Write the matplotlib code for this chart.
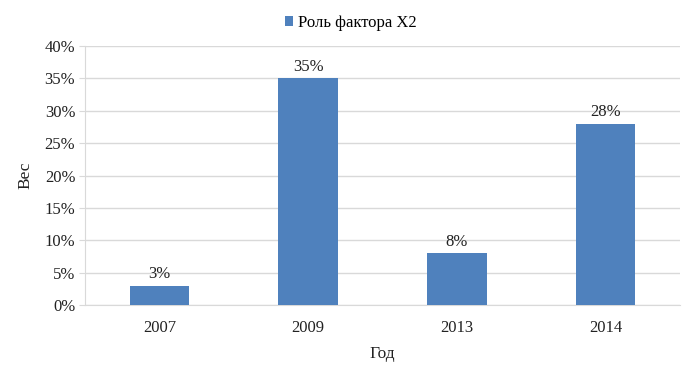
import matplotlib
matplotlib.use("Agg")
import matplotlib.pyplot as plt
from matplotlib.ticker import FuncFormatter

years = ["2007", "2009", "2013", "2014"]
values = [3, 35, 8, 28]
series_name = "Роль фактора X2"
y_ticks = [0, 5, 10, 15, 20, 25, 30, 35, 40]

plt.rcParams['font.family'] = ['Liberation Serif', 'DejaVu Serif']

fig = plt.figure(figsize=(6.95, 3.84), dpi=100)
ax = fig.add_axes([85/695, 1-305/384, (680-85)/695, (305-46)/384])

x = range(len(years))
bars = ax.bar(x, values, width=0.4, color="#4F81BD", label=series_name, zorder=3)
for xi, v in zip(x, values):
    ax.text(xi, v + 0.5, f"{v}%", ha="center", va="bottom", fontsize=12, color="#222222", zorder=4)

ax.set_xlim(-0.5, len(years) - 0.5)
ax.set_ylim(0, 40)
ax.set_yticks(y_ticks)
ax.yaxis.set_major_formatter(FuncFormatter(lambda v, p: f"{int(v)}%"))
ax.set_xticks(list(x))
ax.set_xticklabels(years)
ax.grid(axis="y", color="#D9D9D9", linewidth=1, zorder=0)
for s in ["top", "right"]:
    ax.spines[s].set_visible(False)
ax.spines["left"].set_color("#D9D9D9")
ax.spines["bottom"].set_color("#D9D9D9")
ax.tick_params(axis="y", length=4, color="#D9D9D9", labelsize=12, pad=3, labelcolor="#222222")
ax.tick_params(axis="x", length=0, labelsize=12, pad=11, labelcolor="#222222")
ax.set_xlabel("Год", fontsize=12.5, labelpad=7, color="#222222")
ax.set_ylabel("Вес", fontsize=12.5, labelpad=8, color="#222222")

fig.legend(loc="upper center", bbox_to_anchor=(0.505, 1.0), ncol=1, frameon=False,
           fontsize=12, handlelength=0.5, handleheight=0.5, handletextpad=0.3)

fig.savefig("out.png", dpi=100)
